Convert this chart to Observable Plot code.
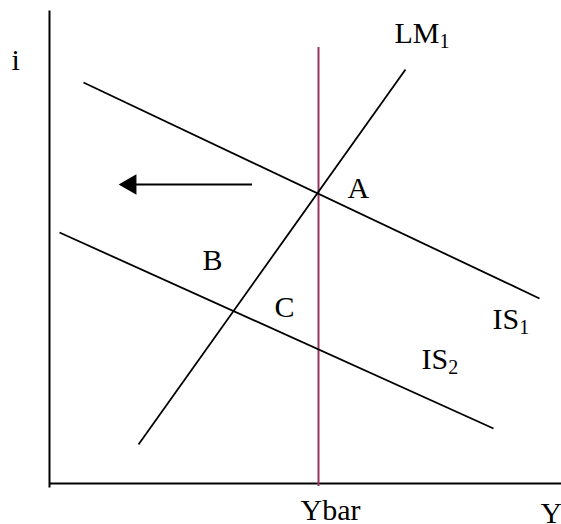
<!DOCTYPE html>
<html>
<head>
<meta charset="utf-8">
<script src="https://cdn.jsdelivr.net/npm/d3@7"></script>
<script src="https://cdn.jsdelivr.net/npm/@observablehq/plot@0.6"></script>
<style>
  html, body { margin: 0; padding: 0; background: #fff; }
  #chart svg { display: block; }
</style>
</head>
<body>
<div id="chart"></div>
<script>
// Curves (Y, i) end points in chart units (origin at axes' corner)
const curveNames = ["IS1", "IS2", "LM1"];
const curveY1 = [34, 10, 89];
const curveI1 = [401, 251, 39];
const curveY2 = [490, 444, 356];
const curveI2 = [185, 55, 414];

// Full-employment output
const ybarValue = 269;
const ybarFrom = -3;
const ybarTo = 436;

// Axes extents
const axisYTop = 473;
const axisYBottom = -4;
const axisXRight = 512;

// Shift arrow
const arrowFrom = 203;
const arrowTo = 69;
const arrowLevel = 299;

// Labels
const labelText = ["i", "LM", "A", "B", "C", "IS", "IS", "Ybar", "Y"];
const labelSub  = ["", "1", "", "", "", "1", "2", "", ""];
const labelY    = [-38, 345, 298, 153, 225, 443, 372, 251, 491];
const labelI    = [414, 441, 286, 214, 167, 155, 115, -36, -39];

const curves = curveNames.map((n, k) => ({name: n, x1: curveY1[k], y1: curveI1[k], x2: curveY2[k], y2: curveI2[k]}));
const axes = [
  {x1: 0, y1: axisYBottom, x2: 0, y2: axisYTop},
  {x1: 0, y1: 0, x2: axisXRight, y2: 0}
];
const labels = labelText.map((t, k) => ({t, sub: labelSub[k], x: labelY[k], y: labelI[k]}));

const font = "Liberation Serif, Times New Roman, serif";

const chart = Plot.plot({
  width: 561,
  height: 524,
  margin: 0,
  x: {domain: [-49, 512], range: [0, 561], axis: null},
  y: {domain: [-41, 483], range: [524, 0], axis: null},
  marks: [
    Plot.link(axes, {x1: "x1", y1: "y1", x2: "x2", y2: "y2", stroke: "#000", strokeWidth: 2}),
    Plot.ruleX([ybarValue], {y1: ybarFrom, y2: ybarTo, stroke: "#993366", strokeWidth: 2}),
    Plot.link(curves, {x1: "x1", y1: "y1", x2: "x2", y2: "y2", stroke: "#000", strokeWidth: 1.8}),
    Plot.ruleY([arrowLevel], {x1: arrowFrom, x2: arrowTo + 10, stroke: "#000", strokeWidth: 2}),
    Plot.dot([arrowTo], {x: d => d, y: arrowLevel, symbol: "triangle", rotate: -90, r: 7.6, fill: "#000", dx: 12}),
    Plot.text(labels, {x: "x", y: "y", text: "t", textAnchor: "start", lineAnchor: "bottom",
      fontFamily: font, fontSize: 30, fill: "#000"})
  ]
});

// add subscripts as tspans (the text mark is the only one producing <text>)
const textEls = Array.from(chart.querySelectorAll("text"));
textEls.forEach((el, k) => {
  const d = labels[k];
  if (d && d.sub) {
    const ts = document.createElementNS("http://www.w3.org/2000/svg", "tspan");
    ts.setAttribute("font-size", "20");
    ts.setAttribute("dy", "5");
    ts.textContent = d.sub;
    el.appendChild(ts);
  }
});

document.getElementById("chart").appendChild(chart);
</script>
</body>
</html>
